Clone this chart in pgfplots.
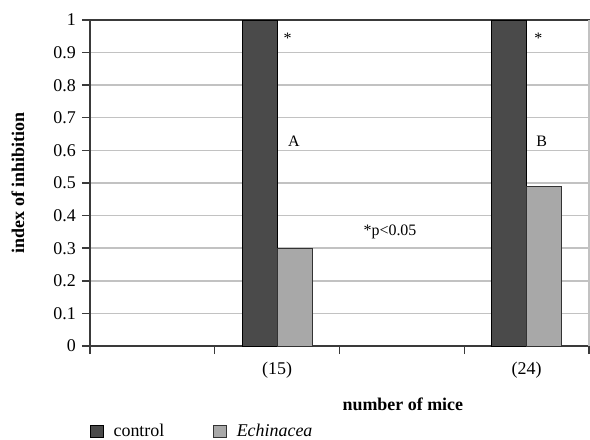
\documentclass[border=0pt]{standalone}
\usepackage{fontspec}
\setmainfont{Liberation Serif}
\usepackage{pgfplots}
\pgfplotsset{compat=1.18}
\definecolor{darkbar}{HTML}{4A4A4A}
\definecolor{lightbar}{HTML}{A8A8A8}
\definecolor{gridc}{HTML}{C2C2C2}
\definecolor{axisc}{HTML}{3A3A3A}
\begin{document}
\fontsize{18}{21.6}\selectfont
\begin{tikzpicture}
\useasboundingbox (-90bp,-94bp) rectangle (500bp,346bp);
\begin{axis}[
  name=ax,
  scale only axis, width=499bp, height=326bp,
  xmin=-0.5, xmax=3.5, ymin=0, ymax=1,
  ybar=0pt, bar width=0.28,
  axis line style={draw=axisc, line width=1.4bp},
  tick pos=left, tick align=outside,
  major tick length=8bp, minor tick length=8bp,
  tick style={draw=axisc, line width=1.4bp},
  xtick={1,3}, xticklabels={(15),(24)},
  major x tick style={draw=none},
  minor xtick={-0.5,0.5,1.5,2.5,3.5},
  ytick={0,0.1,...,1.0},
  yticklabel style={/pgf/number format/fixed, /pgf/number format/precision=1},
  /pgf/number format/assume math mode=true,
  xticklabel style={yshift=-2bp},
  ymajorgrids, grid style={draw=gridc, line width=1.4bp},
  ylabel={\textbf{index of inhibition}},
  ylabel style={at={(axis description cs:-0.1443,0.5)}, anchor=center},
  xlabel={\textbf{number of mice}},
  xlabel style={at={(axis description cs:0.627,0)}, anchor=center, yshift=-58bp},
  legend style={at={(axis description cs:0,0)}, anchor=north west, xshift=-3bp, yshift=-74bp,
    draw=none, fill=none, legend columns=2,
    /tikz/every even column/.append style={column sep=47bp}},
  legend image code/.code={\draw[#1] (-13bp,-6bp) rectangle (0bp,6bp); \path[draw=none,fill=none] (0bp,0bp) -- (8bp,0bp);},
]
\addplot[fill=darkbar, draw=black, line width=0.8bp, bar shift=-0.14] coordinates {(1,1) (3,1)};
\addlegendentry{control}
\addplot[fill=lightbar, draw=black!80, line width=0.8bp, bar shift=0.14] coordinates {(1,0.30) (3,0.49)};
\addlegendentry{\textit{Echinacea}}
\node[font=\fontsize{16}{18}\selectfont] at (axis cs:1.085,0.945) {*};
\node[font=\fontsize{16}{18}\selectfont] at (axis cs:3.095,0.945) {*};
\node[font=\fontsize{16}{18}\selectfont] at (axis cs:1.135,0.629) {A};
\node[font=\fontsize{16}{18}\selectfont] at (axis cs:3.12,0.629) {B};
\node[font=\fontsize{16}{18}\selectfont] at (axis cs:1.905,0.35) {*p<0.05};
\end{axis}
\draw[gridc, line width=1.8bp] (499bp,0) -- (499bp,326bp);
\end{tikzpicture}
\end{document}
